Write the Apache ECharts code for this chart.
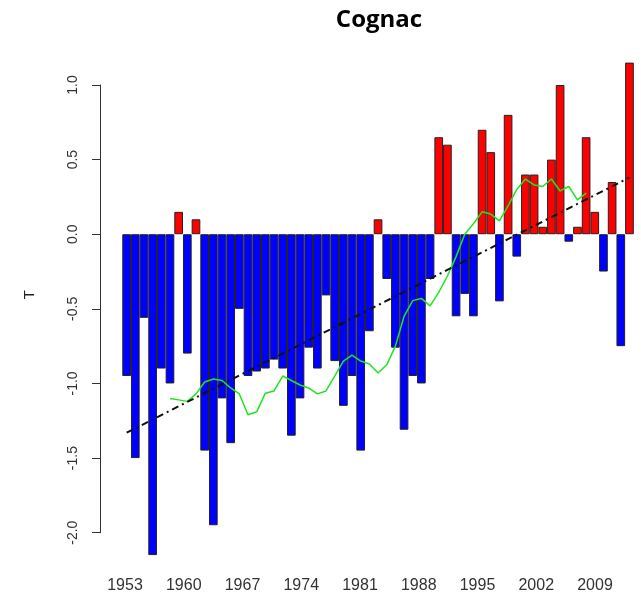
<!DOCTYPE html>
<html><head><meta charset="utf-8">
<script src="https://cdn.jsdelivr.net/npm/echarts@6/dist/echarts.min.js"></script>
<style>html,body{margin:0;padding:0;background:#fff}#c{width:641px;height:594px}</style>
</head><body><div id="c"></div>
<script>
const years = ['1953','1954','1955','1956','1957','1958','1959','1960','1961','1962',
  '1963','1964','1965','1966','1967','1968','1969','1970','1971','1972',
  '1973','1974','1975','1976','1977','1978','1979','1980','1981','1982',
  '1983','1984','1985','1986','1987','1988','1989','1990','1991','1992',
  '1993','1994','1995','1996','1997','1998','1999','2000','2001','2002',
  '2003','2004','2005','2006','2007','2008','2009','2010','2011'];
const anomalies = [-0.95,-1.50,-0.56,-2.15,-0.90,-1.00,0.15,-0.80,0.10,-1.45,
  -1.95,-1.10,-1.40,-0.50,-0.95,-0.92,-0.90,-0.84,-0.90,-1.35,
  -1.10,-0.76,-0.90,-0.41,-0.85,-1.15,-0.95,-1.45,-0.65,0.10,
  -0.30,-0.76,-1.31,-0.95,-1.00,-0.30,0.65,0.60,-0.55,-0.40,
  -0.55,0.70,0.55,-0.45,0.80,-0.15,0.40,0.40,0.05,0.50,
  1.00,-0.05,0.05,0.65,0.15,-0.25,0.35,-0.75,1.15];
const smoothYears = ['1958','1959','1960','1961','1962','1963','1964','1965','1966','1967',
  '1968','1969','1970','1971','1972','1973','1974','1975','1976','1977',
  '1978','1979','1980','1981','1982','1983','1984','1985','1986','1987',
  '1988','1989','1990','1991','1992','1993','1994','1995','1996','1997',
  '1998','1999','2000','2001','2002','2003','2004','2005','2006'];
const smoothValues = [-1.10,-1.11,-1.12,-1.07,-0.99,-0.97,-0.98,-1.03,-1.07,-1.21,
  -1.19,-1.065,-1.05,-0.95,-0.98,-1.01,-1.03,-1.07,-1.05,-0.95,
  -0.85,-0.81,-0.85,-0.87,-0.93,-0.875,-0.75,-0.55,-0.445,-0.43,
  -0.48,-0.39,-0.28,-0.15,0.00,0.07,0.15,0.135,0.09,0.19,
  0.30,0.37,0.33,0.32,0.37,0.29,0.32,0.23,0.275];
const trendYears = ['1953','2011'];
const trendValues = [-1.33, 0.38];
const xTickLabels = ['1953','1960','1967','1974','1981','1988','1995','2002','2009'];
const yTickLabels = ['-2.0','-1.5','-1.0','-0.5','0.0','0.5','1.0'];

const RED = '#FF0000', BLUE = '#0000FF';
const chart = echarts.init(document.getElementById('c'), null, {renderer:'canvas'});
chart.setOption({
  animation: false,
  backgroundColor: '#ffffff',
  title: {
    text: 'Cognac', left: 374, textAlign: 'center', top: 3,
    textStyle: {fontFamily: 'Open Sans', fontWeight: 'bold', fontSize: 24, color: '#000'}
  },
  graphic: [{
    type: 'text', left: 22, top: 290, rotation: Math.PI / 2,
    style: {text: 'T', font: '15px "Liberation Sans"', fill: '#222'}
  }],
  grid: [
    {left: 122.3, right: 7.2, top: 55.15, bottom: 31.45},
    {left: 100, width: 1, top: 85, bottom: 61.3},
    {left: 125, right: 46, top: 55.15, bottom: 31.45}
  ],
  xAxis: [
    {gridIndex: 0, type: 'category', data: years, show: false, boundaryGap: true},
    {gridIndex: 1, type: 'value', show: false},
    {gridIndex: 2, type: 'value', min: Number(xTickLabels[0]), max: Number(xTickLabels[xTickLabels.length-1]),
     interval: Number(xTickLabels[1]) - Number(xTickLabels[0]),
     axisLine: {show: false}, axisTick: {show: false}, splitLine: {show: false},
     axisLabel: {margin: 16, fontSize: 16, color: '#333', fontFamily: 'Liberation Sans', formatter: v => String(v)}}
  ],
  yAxis: [
    {gridIndex: 0, type: 'value', min: -2.2, max: 1.2, show: false},
    {gridIndex: 1, type: 'value', min: Number(yTickLabels[0]), max: Number(yTickLabels[yTickLabels.length-1]), interval: 0.5,
     axisLine: {show: true, lineStyle: {color: '#333', width: 1}},
     axisTick: {show: true, length: 8, lineStyle: {color: '#333'}},
     splitLine: {show: false},
     axisLabel: {rotate: 90, margin: 20, fontSize: 14, color: '#333', fontFamily: 'Liberation Sans', formatter: v => v.toFixed(1)}},
    {gridIndex: 2, type: 'value', show: false}
  ],
  series: [
    {type: 'bar', xAxisIndex: 0, yAxisIndex: 0, data: anomalies, barCategoryGap: '0%',
     itemStyle: {color: p => p.value >= 0 ? RED : BLUE, borderColor: '#222', borderWidth: 1}},
    {type: 'line', xAxisIndex: 0, yAxisIndex: 0, data: smoothYears.map((y, i) => [y, smoothValues[i]]),
     showSymbol: false, symbol: 'none', z: 3, lineStyle: {color: '#1EE61E', width: 1.5}},
    {type: 'line', xAxisIndex: 0, yAxisIndex: 0, data: trendYears.map((y, i) => [y, trendValues[i]]),
     showSymbol: false, symbol: 'none', z: 4, lineStyle: {color: '#111', width: 2, type: [7, 4, 2, 4]}}
  ]
});
</script></body></html>
